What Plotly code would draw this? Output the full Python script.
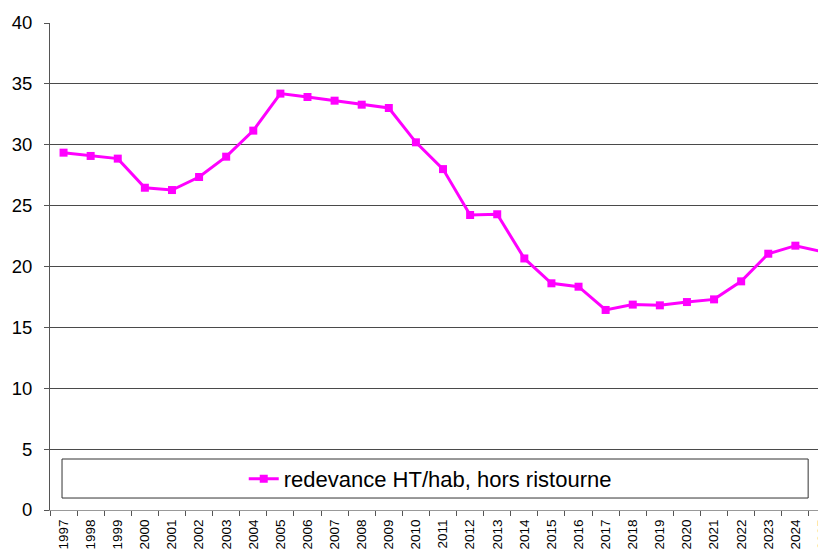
import plotly.graph_objects as go

years = [str(y) for y in range(1997, 2026)]
values = [29.35, 29.08, 28.86, 26.47, 26.28, 27.35, 29.02, 31.16, 34.2,
          33.92, 33.62, 33.29, 33.02, 30.2, 28.0, 24.23, 24.29, 20.66,
          18.62, 18.34, 16.43, 16.87, 16.81, 17.08, 17.3, 18.78, 21.05,
          21.71, 21.22]
series_name = "redevance HT/hab, hors ristourne"
y_ticks = [0, 5, 10, 15, 20, 25, 30, 35, 40]

fig = go.Figure()
fig.add_trace(go.Scatter(
    x=years, y=values, mode="lines+markers", name=series_name,
    line=dict(color="#FF00FF", width=3),
    marker=dict(symbol="square", size=8, color="#FF00FF"),
    cliponaxis=False,
))

# page body has an 8px default margin: the figure is sized to fit the 826x552 window
fig.update_layout(
    width=818, height=544,
    margin=dict(l=42, r=0, t=15, b=42),
    paper_bgcolor="white", plot_bgcolor="white",
    font=dict(family="Liberation Sans, Arial, sans-serif", color="black"),
    showlegend=True,
    legend=dict(x=0.49, xanchor="center", y=0.064, yanchor="middle",
                orientation="h", bgcolor="rgba(0,0,0,0)",
                font=dict(size=22, color="black")),
    xaxis=dict(
        type="category", range=[-0.5, 28.13], automargin=False,
        tickangle=-90, tickfont=dict(size=13.5), ticklabelstandoff=3,
        ticks="outside", ticklen=5, tickcolor="#555", tickson="boundaries",
        showgrid=False, showline=True, linecolor="#999", linewidth=1,
    ),
    yaxis=dict(
        range=[0, 40], tickvals=y_ticks, tickfont=dict(size=18.5), automargin=False,
        ticklabelstandoff=8,
        ticks="outside", ticklen=5, tickcolor="#555",
        showgrid=True, gridcolor="#4a4a4a", gridwidth=1,
        zeroline=False, showline=True, linecolor="#555", linewidth=1,
    ),
    shapes=[dict(type="rect", xref="paper", yref="paper",
                 x0=0.0155, x1=0.977, y0=0.0246, y1=0.1047,
                 line=dict(color="#333", width=1), fillcolor="white", layer="below")],
)

fig.write_html("out.html")
